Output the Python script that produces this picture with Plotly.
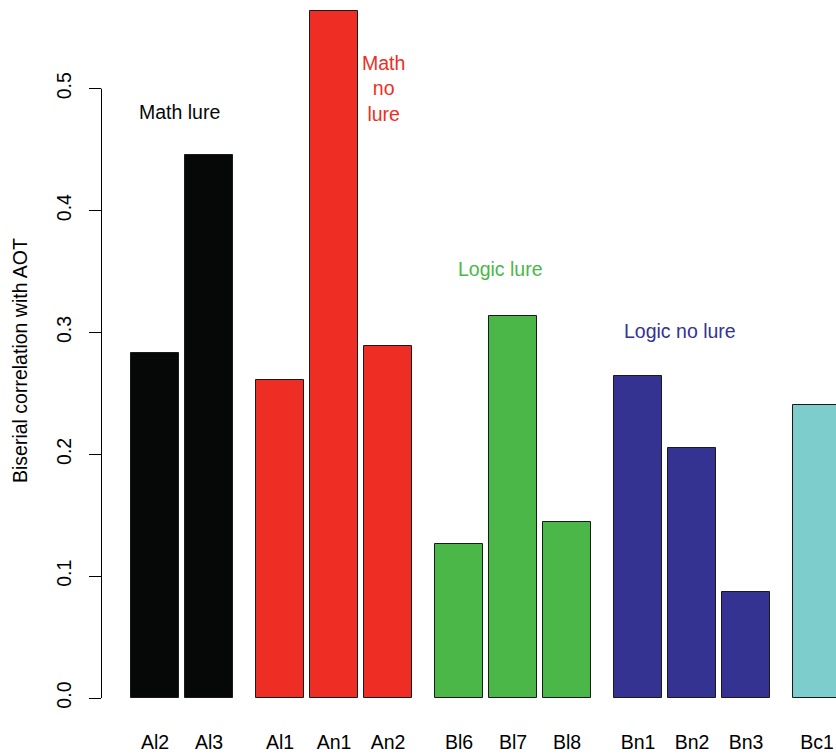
import plotly.graph_objects as go

# Biserial correlations of each item with AOT, grouped by problem type
groups = ["Math lure", "Math no lure", "Logic lure", "Logic no lure", "Control"]
group_items = [
    ["Al2", "Al3"],
    ["Al1", "An1", "An2"],
    ["Bl6", "Bl7", "Bl8"],
    ["Bn1", "Bn2", "Bn3"],
    ["Bc1"],
]
group_values = [
    [0.283, 0.4456],
    [0.261, 0.5638, 0.2889],
    [0.1264, 0.3135, 0.1444],
    [0.2642, 0.2052, 0.087],
    [0.2404],
]
group_colors = ["#050807", "#EE2E24", "#4BB748", "#343391", "#7CCDCB"]

# Group captions: text, x (in bar units), y (correlation), colour
captions = [
    ("Math lure", 0.52, 0.481, "#050807"),
    ("Math<br>no<br>lure", 4.75, 0.4998, "#EE2E24"),
    ("Logic lure", 7.2, 0.3518, "#4BB748"),
    ("Logic no lure", 10.94, 0.3014, "#343391"),
]

FONT = "Liberation Sans, Arial, Helvetica, sans-serif"
FS = 19.5
PLOT_W = 734  # plot area width in px

# bar layout: width 1, small gap inside a group, wider gap between groups
STEP_IN = 1.125
STEP_OUT = 1.479

fig = go.Figure()
x = 0.0
tickvals, ticktext = [], []
for gi, (items, vals, col) in enumerate(zip(group_items, group_values, group_colors)):
    if gi > 0:
        x += STEP_OUT - STEP_IN
    xs = []
    for i, name in enumerate(items):
        if gi > 0 or i > 0:
            x += STEP_IN
        xs.append(x)
        tickvals.append(x)
        ticktext.append(name)
    fig.add_trace(go.Bar(
        x=xs, y=vals, width=1.0, name=groups[gi],
        marker=dict(color=col, line=dict(color="#1a1a1a", width=1)),
        showlegend=False, hoverinfo="x+y",
    ))

for text, cx, cy, col in captions:
    fig.add_annotation(
        x=cx, y=cy, text=text, showarrow=False,
        font=dict(family=FONT, size=FS, color=col),
        xanchor="center", yanchor="middle", align="center",
    )

# y-axis title
fig.add_annotation(
    xref="paper", yref="paper", x=(20 - 102) / PLOT_W, y=(700 - 361) / 700,
    text="Biserial correlation with AOT", textangle=-90, showarrow=False,
    font=dict(family=FONT, size=FS, color="black"),
    xanchor="center", yanchor="middle",
)

# axis line drawn only between the first and last tick
ax_x = -0.5 / PLOT_W
fig.add_shape(type="line", xref="paper", yref="y", x0=ax_x, x1=ax_x, y0=0, y1=0.5,
              line=dict(color="black", width=1))

fig.update_layout(
    width=836, height=754,
    margin=dict(l=102, r=0, t=0, b=54),
    plot_bgcolor="white", paper_bgcolor="white",
    bargap=0,
    font=dict(family=FONT, size=FS, color="black"),
    xaxis=dict(
        range=[-1.104, 14.1875], tickmode="array",
        tickvals=tickvals, ticktext=ticktext,
        showgrid=False, zeroline=False, showline=False, ticks="",
        ticklabelstandoff=28,
        tickfont=dict(family=FONT, size=FS, color="black"),
    ),
    yaxis=dict(
        range=[-0.00164, 0.5728], tickmode="array",
        tickvals=[0, 0.1, 0.2, 0.3, 0.4, 0.5],
        ticktext=["0.0", "0.1", "0.2", "0.3", "0.4", "0.5"],
        tickangle=-90, ticks="outside", ticklen=12, tickwidth=1, tickcolor="black",
        showgrid=False, zeroline=False, showline=False,
        ticklabelstandoff=10,
        tickfont=dict(family=FONT, size=FS, color="black"),
    ),
)

fig.write_html("out.html")
